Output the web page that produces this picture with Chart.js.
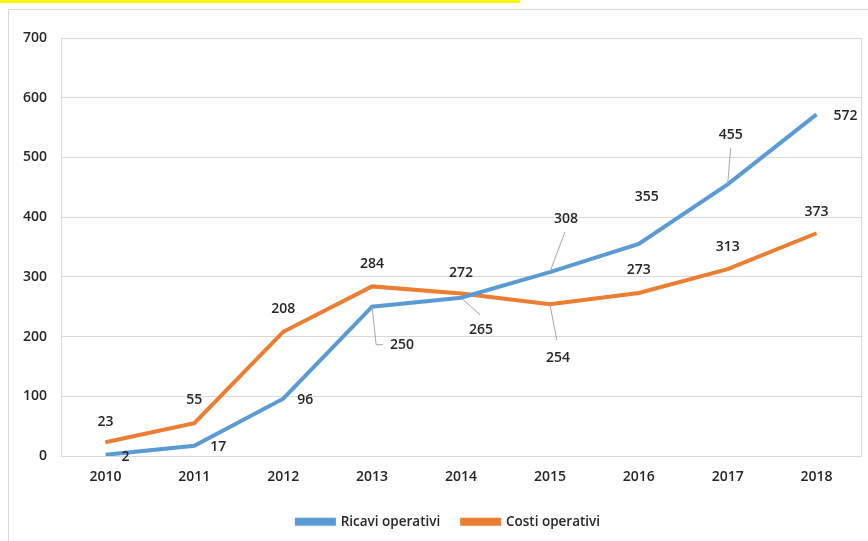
<!DOCTYPE html>
<html>
<head>
<meta charset="utf-8">
<script src="https://cdn.jsdelivr.net/npm/chart.js@4.4.0/dist/chart.umd.min.js"></script>
<style>
  html, body { margin: 0; padding: 0; background: #fff; }
  #wrap { position: relative; width: 868px; height: 541px; overflow: hidden; }
  #topbar { position: absolute; left: 0; top: 0; width: 520px; height: 3px; background: #ffff00; }
  #frame { position: absolute; left: 8px; top: 9px; width: 900px; height: 600px; border: 1px solid #d9d9d9; }
  canvas { position: absolute; left: 0; top: 0; }
</style>
</head>
<body>
<div id="wrap">
  <div id="topbar"></div>
  <div id="frame"></div>
  <canvas id="chart" width="868" height="541"></canvas>
</div>
<script>
// Data
const years = ['2010', '2011', '2012', '2013', '2014', '2015', '2016', '2017', '2018'];
const ricavi = [2, 17, 96, 250, 265, 308, 355, 455, 572];
const costi = [23, 55, 208, 284, 272, 254, 273, 313, 373];
const yTicks = [0, 100, 200, 300, 400, 500, 600, 700];

// Label placement (pixel offsets from each point) and leader lines
const ricaviLabelOffsets = [[20, 2], [24, 1], [22, 1], [30, 38], [20, 32], [16, -53], [8, -47], [3, -49], [29, 2]];
const costiLabelOffsets = [[0, -20], [0, -23], [0, -23], [0, -22], [0, -21], [8, 54], [0, -23], [0, -22], [0, -21]];
const ricaviLeaders = [null, null, null, [[4, 38], [11, 38]], [[19, 17]], [[15, -40]], null, [[3, -36]], null];
const costiLeaders = [null, null, null, null, null, [[7, 36]], null, null, null];

const FONT = '"Open Sans", "Liberation Sans", sans-serif';
const textColor = '#262626';
const gridColor = '#d9d9d9';

// Draws value labels with leader lines
const dataLabels = {
  id: 'dataLabels',
  afterDatasetsDraw(chart) {
    const ctx = chart.ctx;
    const sets = [
      { offsets: ricaviLabelOffsets, leaders: ricaviLeaders },
      { offsets: costiLabelOffsets, leaders: costiLeaders }
    ];
    ctx.save();
    chart.data.datasets.forEach((ds, di) => {
      const meta = chart.getDatasetMeta(di);
      meta.data.forEach((pt, i) => {
        const lead = sets[di].leaders[i];
        if (lead) {
          ctx.strokeStyle = '#a6a6a6';
          ctx.lineWidth = 1;
          ctx.beginPath();
          ctx.moveTo(pt.x, pt.y);
          lead.forEach(p => ctx.lineTo(pt.x + p[0], pt.y + p[1]));
          ctx.stroke();
        }
        const off = sets[di].offsets[i];
        ctx.fillStyle = textColor;
        ctx.font = '600 14px ' + FONT;
        ctx.textAlign = 'center';
        ctx.textBaseline = 'middle';
        ctx.fillText(String(ds.data[i]), pt.x + off[0], pt.y + off[1]);
      });
    });
    ctx.restore();
  }
};

// Border round the plot area, and centre the legend under the plot
const plotBorder = {
  id: 'plotBorder',
  afterLayout(chart) {
    chart.legend.left += 18;
    chart.legend.right += 18;
  },
  beforeDatasetsDraw(chart) {
    const a = chart.chartArea;
    const ctx = chart.ctx;
    ctx.save();
    ctx.strokeStyle = gridColor;
    ctx.lineWidth = 1;
    ctx.strokeRect(Math.round(a.left) + 0.5, Math.round(a.top) + 0.5, Math.round(a.right - a.left), Math.round(a.bottom - a.top));
    ctx.restore();
  }
};

new Chart(document.getElementById('chart'), {
  type: 'line',
  data: {
    labels: years,
    datasets: [
      {
        label: 'Ricavi operativi',
        data: ricavi,
        borderColor: '#5b9bd5',
        backgroundColor: '#5b9bd5',
        borderWidth: 4,
        pointRadius: 0,
        tension: 0
      },
      {
        label: 'Costi operativi',
        data: costi,
        borderColor: '#ed7d31',
        backgroundColor: '#ed7d31',
        borderWidth: 4,
        pointRadius: 0,
        tension: 0
      }
    ]
  },
  options: {
    responsive: false,
    animation: false,
    layout: { padding: { top: 38, right: 7, bottom: 8, left: 0 } },
    plugins: {
      legend: {
        position: 'bottom',
        maxHeight: 40,
        labels: {
          boxWidth: 37,
          boxHeight: 4,
          padding: 22,
          color: textColor,
          font: { family: FONT, size: 13.5, weight: '600' }
        }
      },
      tooltip: { enabled: false }
    },
    scales: {
      x: {
        offset: true,
        grid: { display: false, drawTicks: false },
        border: { display: false },
        ticks: { color: textColor, padding: 13, font: { family: FONT, size: 14, weight: '600' } },
        afterFit(scale) { scale.height = 37; }
      },
      y: {
        min: 0,
        max: 700,
        afterBuildTicks(scale) { scale.ticks = yTicks.map(v => ({ value: v })); },
        grid: { color: gridColor, drawTicks: false },
        border: { display: false },
        ticks: { color: textColor, padding: 14, font: { family: FONT, size: 14, weight: '600' } },
        afterFit(scale) { scale.width = 61; }
      }
    }
  },
  plugins: [plotBorder, dataLabels]
});
</script>
</body>
</html>
